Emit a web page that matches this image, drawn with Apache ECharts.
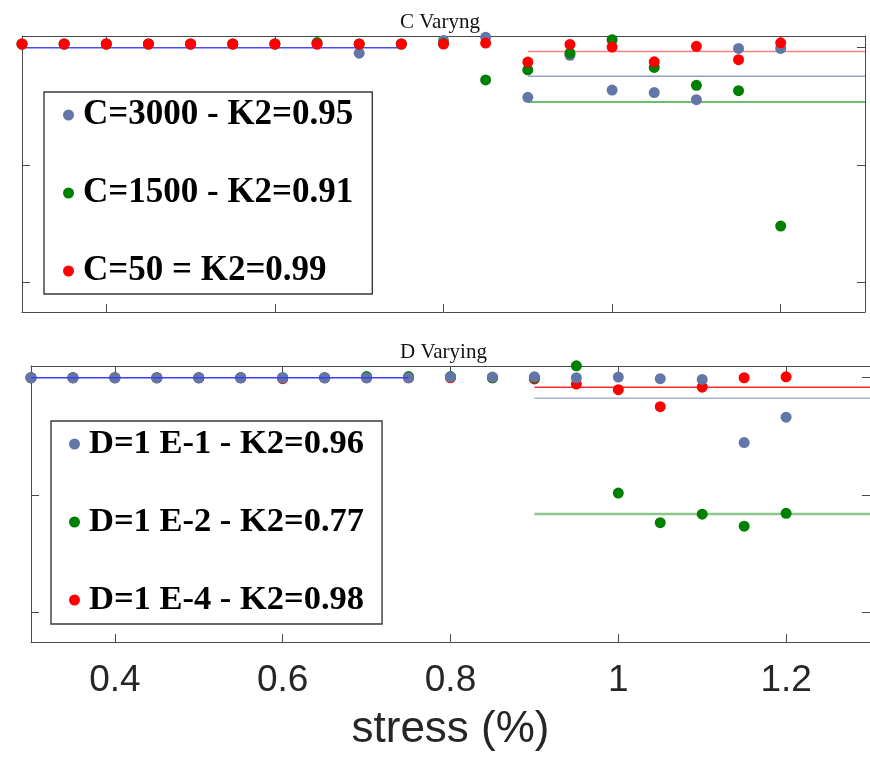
<!DOCTYPE html>
<html>
<head>
<meta charset="utf-8">
<script src="https://cdn.jsdelivr.net/npm/echarts@6/dist/echarts.min.js"></script>
<style>html,body{margin:0;padding:0;background:#fff;}#chart{width:870px;height:760px;}</style>
</head>
<body>
<div id="chart"></div>
<script>
// ---- data ----
const stress = [0.30,0.35,0.40,0.45,0.50,0.55,0.60,0.65,0.70,0.75,0.80,0.85,0.90,0.95,1.00,1.05,1.10,1.15,1.20];

const c3000 = [1.016,1.016,1.016,1.016,1.016,1.016,1.016,1.016,0.977,1.016,1.031,1.045,0.789,0.968,0.820,0.809,0.779,0.997,0.997];
const c1500 = [1.016,1.016,1.016,1.016,1.016,1.016,1.016,1.022,1.016,1.016,1.018,0.863,0.906,0.977,1.034,0.916,0.840,0.817,0.241];
const c50   = [1.016,1.016,1.016,1.016,1.016,1.016,1.016,1.016,1.016,1.016,1.016,1.020,0.939,1.014,1.003,0.940,1.006,0.949,1.021];

const d1e1 = [1.000,1.000,1.000,1.000,1.000,1.000,1.000,1.000,1.000,1.000,1.003,1.003,1.004,1.000,1.003,0.996,0.993,0.724,0.832];
const d1e2 = [1.000,1.000,1.000,1.000,1.000,1.000,1.000,1.000,1.005,1.005,1.005,1.000,1.000,1.051,0.509,0.383,0.419,0.368,0.423];
const d1e4 = [1.000,1.000,1.000,1.000,1.000,1.000,0.996,1.000,1.000,1.000,1.000,1.000,0.995,0.973,0.949,0.877,0.960,1.000,1.004];

const fitLowX  = [0.30, 0.75];
const fitHighX = [0.90, 1.30];
const cFitLow = 1.0;
const cFitHigh = { c3000: 0.879, c1500: 0.769, c50: 0.984 };
const dFitLow = 1.0;
const dFitHigh = { d1e1: 0.913, d1e2: 0.420, d1e4: 0.960 };

const namesC = ['C=3000 - K2=0.95', 'C=1500 - K2=0.91', 'C=50 = K2=0.99'];
const namesD = ['D=1 E-1 - K2=0.96', 'D=1 E-2 - K2=0.77', 'D=1 E-4 - K2=0.98'];
const titles = ['C Varyng', 'D Varying'];
const xTicks = [0.4, 0.6, 0.8, 1.0, 1.2];
const yTicks = [0, 0.5, 1];
const xAxisName = 'stress (%)';

// ---- styling ----
const BLUE = '#6277a8', GREEN = '#008000', RED = '#ff0000';
const AX = '#4a4a4a';

function pairs(xv, yv) { return xv.map((x, i) => [x, yv[i]]); }

function xAxisCfg(grid, pos, labels) {
  return {
    type: 'value', gridIndex: grid, position: pos, min: 0.3, max: 1.3,
    axisLine: { show: true, onZero: false, lineStyle: { color: AX, width: 1 } },
    axisTick: { show: true, inside: true, length: 8, customValues: xTicks, lineStyle: { color: AX } },
    axisLabel: labels ? {
      show: true, customValues: xTicks, margin: 20,
      fontFamily: 'Liberation Sans', fontSize: 37, color: '#262626',
      formatter: v => String(Math.round(v * 10) / 10)
    } : { show: false },
    splitLine: { show: false },
    name: labels ? xAxisName : '', nameLocation: 'middle', nameGap: 66,
    nameTextStyle: { fontFamily: 'Liberation Sans', fontSize: 44, color: '#262626' }
  };
}
function yAxisCfg(grid, pos) {
  return {
    type: 'value', gridIndex: grid, position: pos, min: -0.125, max: 1.05,
    axisLine: { show: true, onZero: false, lineStyle: { color: AX, width: 1 } },
    axisTick: { show: true, inside: true, length: 8, customValues: yTicks, lineStyle: { color: AX } },
    axisLabel: { show: false },
    splitLine: { show: false }
  };
}
function scatter(name, data, color, axisIdx, z) {
  return {
    name, type: 'scatter', data: pairs(stress, data), symbolSize: 11, clip: false,
    xAxisIndex: axisIdx, yAxisIndex: axisIdx, itemStyle: { color, opacity: 1 }, z,
    emphasis: { disabled: true }
  };
}
function fit(xv, y, color, width, axisIdx, z) {
  return {
    type: 'line', data: [[xv[0], y], [xv[1], y]], showSymbol: false, symbol: 'none',
    xAxisIndex: axisIdx, yAxisIndex: axisIdx, lineStyle: { color, width }, z,
    silent: true, animation: false
  };
}
function legendCfg(names, colors, left, top, pad, fs) {
  return {
    show: true, orient: 'vertical', left, top, padding: pad,
    data: names.map((n, i) => ({ name: n, itemStyle: { color: colors[i] } })),
    icon: 'circle', itemWidth: 11, itemHeight: 11, itemGap: 42,
    borderColor: '#3a3a3a', borderWidth: 1.4, backgroundColor: '#fff',
    selectedMode: false,
    textStyle: { fontFamily: 'Liberation Serif', fontWeight: 'bold', fontSize: fs, lineHeight: 36,
                 color: '#000', padding: [0, 0, 0, 4] }
  };
}

const chart = echarts.init(document.getElementById('chart'), null, { renderer: 'canvas' });
chart.setOption({
  animation: false,
  backgroundColor: '#fff',
  title: [
    { text: titles[0], left: 395, top: 7, textStyle: { fontFamily: 'Liberation Serif', fontWeight: 'normal', fontSize: 21, color: '#111' } },
    { text: titles[1], left: 395, top: 337, textStyle: { fontFamily: 'Liberation Serif', fontWeight: 'normal', fontSize: 21, color: '#111' } }
  ],
  grid: [
    { left: 22, top: 36, width: 843, height: 276 },
    { left: 31, top: 366, width: 841, height: 276 }
  ],
  xAxis: [xAxisCfg(0, 'bottom', false), xAxisCfg(0, 'top', false), xAxisCfg(1, 'bottom', true), xAxisCfg(1, 'top', false)],
  yAxis: [yAxisCfg(0, 'left'), yAxisCfg(0, 'right'), yAxisCfg(1, 'left'), yAxisCfg(1, 'right')],
  legend: [
    legendCfg(namesC, [BLUE, GREEN, RED], 44, 92, [5, 19, 5, 19], 35),
    legendCfg(namesD, [BLUE, GREEN, RED], 51, 421, [5, 18, 6, 18], 34.5)
  ],
  series: [
    // top panel
    fit(fitLowX, cFitLow, '#4b4bff', 1.5, 0, 2),
    scatter(namesC[0], c3000, BLUE, 0, 3),
    scatter(namesC[1], c1500, GREEN, 0, 4),
    scatter(namesC[2], c50, RED, 0, 5),
    fit(fitHighX, cFitHigh.c50, '#ff8080', 1.5, 0, 2),
    fit(fitHighX, cFitHigh.c3000, '#8fa2cc', 1.5, 0, 2),
    fit(fitHighX, cFitHigh.c1500, '#3aa83a', 1.5, 0, 2),
    // bottom panel
    scatter(namesD[2], d1e4, RED, 2, 3),
    scatter(namesD[1], d1e2, GREEN, 2, 4),
    scatter(namesD[0], d1e1, BLUE, 2, 5),
    fit(fitLowX, dFitLow, '#3c3cff', 1.5, 2, 6),
    fit(fitHighX, dFitHigh.d1e4, '#ff2a2a', 1.5, 2, 2),
    fit(fitHighX, dFitHigh.d1e1, '#a3b3d9', 1.5, 2, 2),
    fit(fitHighX, dFitHigh.d1e2, '#8cc88c', 2.5, 2, 2)
  ]
});
</script>
</body>
</html>
